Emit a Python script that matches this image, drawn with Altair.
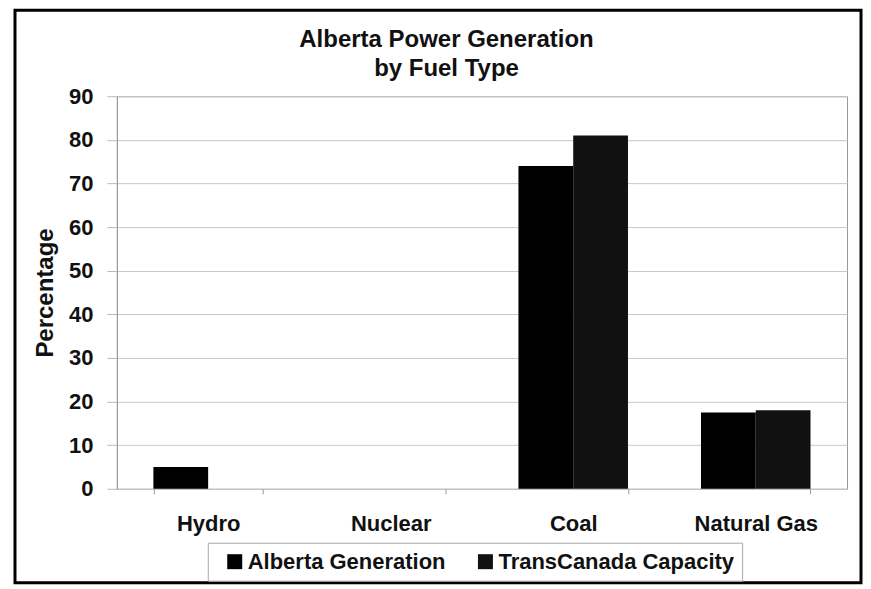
import altair as alt
import pandas as pd

categories = ["Hydro", "Nuclear", "Coal", "Natural Gas"]
series_names = ["Alberta Generation", "TransCanada Capacity"]
alberta_generation = [5, 0, 74, 17.5]
transcanada_capacity = [0, 0, 81, 18]
title_lines = "Alberta Power Generation\nby Fuel Type"

rows = []
for c, a, t in zip(categories, alberta_generation, transcanada_capacity):
    rows.append({"fuel": c, "series": series_names[0], "value": a})
    rows.append({"fuel": c, "series": series_names[1], "value": t})
df = pd.DataFrame(rows)

FONT = "Liberation Sans"

bars = alt.Chart(df).mark_bar().encode(
    x=alt.X("fuel:N", sort=categories,
            scale=alt.Scale(paddingInner=0.4, paddingOuter=0.2),
            axis=alt.Axis(title=None, labelAngle=0, labelFontSize=22, labelFont=FONT,
                          labelFontWeight="bold", labelColor="#111", labelPadding=20,
                          tickBand="extent", tickSize=5, tickColor="#999",
                          domain=False, grid=False)),
    xOffset=alt.XOffset("series:N", sort=series_names, scale=alt.Scale(paddingInner=0, paddingOuter=0)),
    y=alt.Y("value:Q", scale=alt.Scale(domain=[0, 90], nice=False),
            axis=alt.Axis(title="Percentage", values=list(range(0, 91, 10)),
                          labelFontSize=22, labelFont=FONT, labelFontWeight="bold",
                          labelColor="#111", labelPadding=14, tickSize=10, tickColor="#bbb",
                          titleFontSize=24, titleFont=FONT, titleFontWeight="bold",
                          titleColor="#111", titlePadding=11,
                          domainColor="#999", gridColor="#c8c8c8")),
    color=alt.Color("series:N", sort=series_names,
                    scale=alt.Scale(domain=series_names, range=["#000000", "#111111"]),
                    legend=alt.Legend(title=None, orient="none", legendX=91, legendY=447,
                                      direction="horizontal", padding=8,
                                      strokeColor="#a8a8a8", fillColor="white",
                                      symbolType="square", symbolSize=225,
                                      symbolStrokeWidth=0, symbolOffset=8, labelOffset=2,
                                      labelFontSize=22, labelFont=FONT,
                                      labelFontWeight="bold", labelColor="#111",
                                      labelLimit=400, columnPadding=20)),
)

frame = alt.Chart(pd.DataFrame({"k": [0]})).mark_rect(
    fill=None, stroke="#000", strokeWidth=3
).encode(x=alt.value(-102), x2=alt.value(745), y=alt.value(-86), y2=alt.value(487))

title = alt.Chart(pd.DataFrame({"t": [title_lines]})).mark_text(
    font=FONT, fontSize=24, fontWeight="bold", color="#111", align="center",
    baseline="alphabetic", lineBreak="\n", lineHeight=29
).encode(text="t:N", x=alt.value(330), y=alt.value(-49))

chart = alt.layer(bars, frame, title).properties(
    width=731, height=393,
    padding={"left": 109, "top": 88, "right": 16, "bottom": 97},
    autosize=alt.AutoSizeParams(type="none"),
    background="white",
).configure_view(stroke="#999", strokeWidth=1)

chart.save("out.html", embed_options={"renderer": "svg", "actions": False})
